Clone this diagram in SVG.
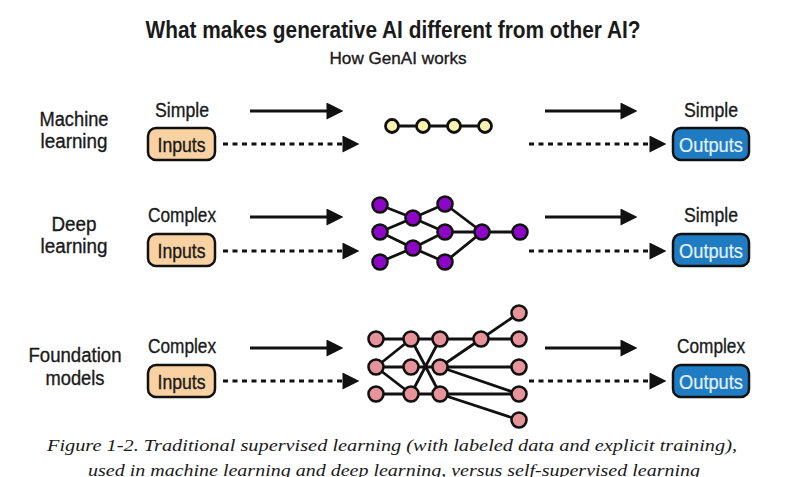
<svg xmlns="http://www.w3.org/2000/svg" width="787" height="477" viewBox="0 0 787 477">
<style>
.t{font-family:"Liberation Sans",Arial,sans-serif;fill:#1a1a1a;stroke:#1a1a1a;stroke-width:0.35}
.title{font-weight:bold;font-size:24px;stroke-width:0}
.sub{font-size:17px}
.lbl{font-size:20px;text-anchor:middle}
.box{font-size:20px;text-anchor:middle}
.in{fill:#f9d1a2;stroke:#111;stroke-width:2.5}
.out{fill:#1f7cc2;stroke:#111;stroke-width:2.5}
.outt{fill:#e2f1fd;stroke:#e2f1fd;stroke-width:0.2}
.sol{stroke:#111;stroke-width:3;fill:none}
.dash{stroke:#111;stroke-width:3;fill:none;stroke-dasharray:5 4.5}
.e{stroke:#111;stroke-width:2.8;fill:none}
.ny{fill:#fbf2ad;stroke:#111;stroke-width:2.8}
.np{fill:#8d06c8;stroke:#111;stroke-width:2.6}
.nk{fill:#e6939a;stroke:#111;stroke-width:2.6}
.cap{font-family:"Liberation Serif","Times New Roman",serif;font-style:italic;font-size:17px;fill:#1a1a1a;text-anchor:middle}
</style>
<defs>
<marker id="ah" markerUnits="userSpaceOnUse" markerWidth="17" markerHeight="17" viewBox="0 0 16 16" refX="0.5" refY="8" orient="auto">
<path d="M0,0 L16,8 L0,16 z" fill="#111"/>
</marker>
</defs>
<rect width="787" height="477" fill="#fff"/>

<g id="title">
<text class="t title" x="393" y="38" text-anchor="middle" textLength="495" lengthAdjust="spacingAndGlyphs">What makes generative AI different from other AI?</text>
<text class="t sub" x="398" y="64" text-anchor="middle" textLength="137" lengthAdjust="spacingAndGlyphs">How GenAI works</text>
</g>

<g id="label-ml">
<text class="t lbl" x="74" y="126" textLength="69" lengthAdjust="spacingAndGlyphs">Machine</text>
<text class="t lbl" x="74" y="148" textLength="67" lengthAdjust="spacingAndGlyphs">learning</text>
</g>
<g id="label-dl">
<text class="t lbl" x="74" y="231" textLength="45" lengthAdjust="spacingAndGlyphs">Deep</text>
<text class="t lbl" x="74" y="253" textLength="67" lengthAdjust="spacingAndGlyphs">learning</text>
</g>
<g id="label-fm">
<text class="t lbl" x="75" y="362" textLength="93" lengthAdjust="spacingAndGlyphs">Foundation</text>
<text class="t lbl" x="75" y="385" textLength="59" lengthAdjust="spacingAndGlyphs">models</text>
</g>

<g id="in-ml">
<text class="t lbl" x="182" y="117" textLength="54" lengthAdjust="spacingAndGlyphs">Simple</text>
<rect class="in" x="148" y="128" width="67" height="32" rx="8"/>
<text class="t box" x="181.5" y="152" textLength="48" lengthAdjust="spacingAndGlyphs">Inputs</text>
</g>
<g id="in-dl">
<text class="t lbl" x="182" y="222" textLength="68" lengthAdjust="spacingAndGlyphs">Complex</text>
<rect class="in" x="148" y="234" width="67" height="32" rx="8"/>
<text class="t box" x="181.5" y="258" textLength="48" lengthAdjust="spacingAndGlyphs">Inputs</text>
</g>
<g id="in-fm">
<text class="t lbl" x="182" y="353" textLength="68" lengthAdjust="spacingAndGlyphs">Complex</text>
<rect class="in" x="148" y="365" width="67" height="32" rx="8"/>
<text class="t box" x="181.5" y="389" textLength="48" lengthAdjust="spacingAndGlyphs">Inputs</text>
</g>

<g id="out-ml">
<text class="t lbl" x="711" y="117" textLength="54" lengthAdjust="spacingAndGlyphs">Simple</text>
<rect class="out" x="673" y="128" width="76" height="32" rx="8"/>
<text class="t box outt" x="711" y="152" textLength="64" lengthAdjust="spacingAndGlyphs">Outputs</text>
</g>
<g id="out-dl">
<text class="t lbl" x="711" y="222" textLength="54" lengthAdjust="spacingAndGlyphs">Simple</text>
<rect class="out" x="673" y="234" width="76" height="32" rx="8"/>
<text class="t box outt" x="711" y="258" textLength="64" lengthAdjust="spacingAndGlyphs">Outputs</text>
</g>
<g id="out-fm">
<text class="t lbl" x="711" y="353" textLength="68" lengthAdjust="spacingAndGlyphs">Complex</text>
<rect class="out" x="673" y="365" width="76" height="32" rx="8"/>
<text class="t box outt" x="711" y="389" textLength="64" lengthAdjust="spacingAndGlyphs">Outputs</text>
</g>

<g id="connectors">
<line class="sol" x1="250" y1="111" x2="327" y2="111" marker-end="url(#ah)"/>
<line class="sol" x1="545" y1="111" x2="621" y2="111" marker-end="url(#ah)"/>
<line class="dash" x1="223" y1="144" x2="343" y2="144" marker-end="url(#ah)"/>
<line class="dash" x1="529" y1="144" x2="650" y2="144" marker-end="url(#ah)"/>
<line class="sol" x1="250" y1="217" x2="327" y2="217" marker-end="url(#ah)"/>
<line class="sol" x1="545" y1="217" x2="621" y2="217" marker-end="url(#ah)"/>
<line class="dash" x1="223" y1="251" x2="343" y2="251" marker-end="url(#ah)"/>
<line class="dash" x1="529" y1="251" x2="650" y2="251" marker-end="url(#ah)"/>
<line class="sol" x1="250" y1="348" x2="327" y2="348" marker-end="url(#ah)"/>
<line class="sol" x1="545" y1="348" x2="621" y2="348" marker-end="url(#ah)"/>
<line class="dash" x1="223" y1="381" x2="343" y2="381" marker-end="url(#ah)"/>
<line class="dash" x1="529" y1="381" x2="650" y2="381" marker-end="url(#ah)"/>
</g>

<g id="net-ml">
<path class="e" d="M392,126 H485"/>
<circle class="ny" cx="392" cy="126" r="6.5"/>
<circle class="ny" cx="423" cy="126" r="6.5"/>
<circle class="ny" cx="454" cy="126" r="6.5"/>
<circle class="ny" cx="485" cy="126" r="6.5"/>
</g>

<g id="net-dl">
<path class="e" d="M380,205 L413,218 L380,232 M380,232 L413,248 L380,262 M413,218 L445,204 M413,218 L445,232 M413,248 L445,232 M413,248 L445,262 M445,204 L482,232 L445,262 M445,232 H520"/>
<circle class="np" cx="380" cy="205" r="7.5"/>
<circle class="np" cx="380" cy="232" r="7.5"/>
<circle class="np" cx="380" cy="262" r="7.5"/>
<circle class="np" cx="413" cy="218" r="7.5"/>
<circle class="np" cx="413" cy="248" r="7.5"/>
<circle class="np" cx="445" cy="204" r="7.5"/>
<circle class="np" cx="445" cy="232" r="7.5"/>
<circle class="np" cx="445" cy="262" r="7.5"/>
<circle class="np" cx="482" cy="232" r="7.5"/>
<circle class="np" cx="520" cy="232" r="7.5"/>
</g>

<g id="net-fm">
<path class="e" d="M376,339 H519 M481,339 L519,313 M376,367 H519 M376,394 H519 M376,367 L411,339 M376,367 L411,394 M411,339 L440,394 M411,394 L440,339 M440,367 L481,339 M440,367 L519,394 M440,394 L519,420"/>
<circle class="nk" cx="376" cy="339" r="7.5"/>
<circle class="nk" cx="376" cy="367" r="7.5"/>
<circle class="nk" cx="376" cy="394" r="7.5"/>
<circle class="nk" cx="411" cy="339" r="7.5"/>
<circle class="nk" cx="411" cy="367" r="7.5"/>
<circle class="nk" cx="411" cy="394" r="7.5"/>
<circle class="nk" cx="440" cy="339" r="7.5"/>
<circle class="nk" cx="440" cy="367" r="7.5"/>
<circle class="nk" cx="440" cy="394" r="7.5"/>
<circle class="nk" cx="481" cy="339" r="7.5"/>
<circle class="nk" cx="519" cy="313" r="7.5"/>
<circle class="nk" cx="519" cy="339" r="7.5"/>
<circle class="nk" cx="519" cy="367" r="7.5"/>
<circle class="nk" cx="519" cy="394" r="7.5"/>
<circle class="nk" cx="519" cy="420" r="7.5"/>
</g>

<g id="caption">
<text class="cap" x="392" y="451" textLength="690" lengthAdjust="spacingAndGlyphs">Figure 1-2. Traditional supervised learning (with labeled data and explicit training),</text>
<text class="cap" x="394" y="476" textLength="612" lengthAdjust="spacingAndGlyphs">used in machine learning and deep learning, versus self-supervised learning</text>
</g>
</svg>
